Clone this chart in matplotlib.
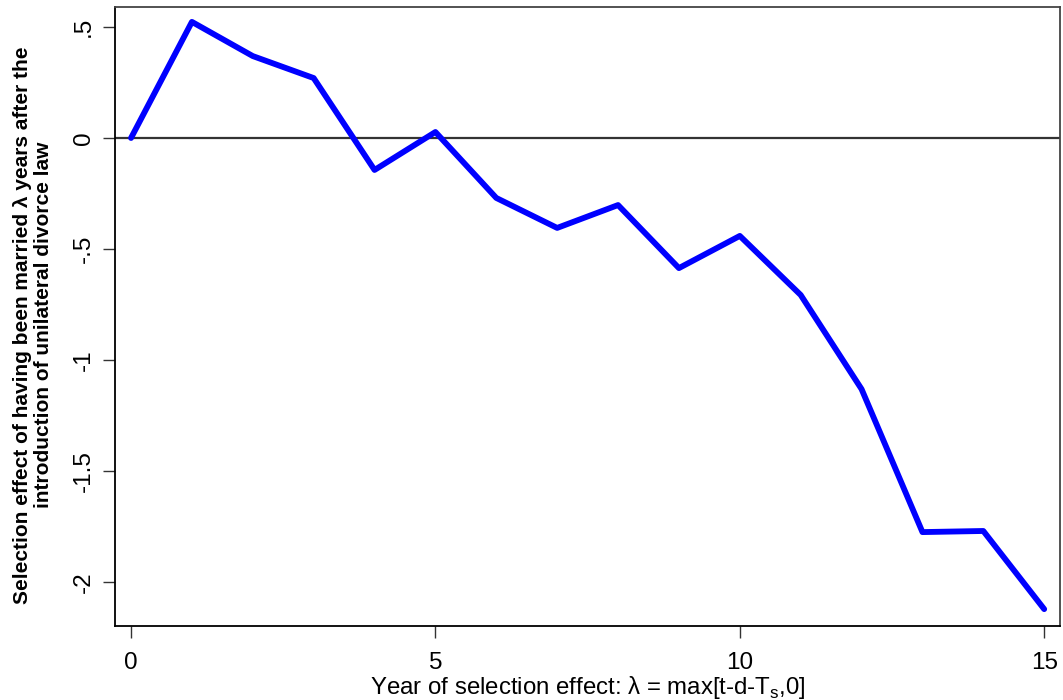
import matplotlib
matplotlib.use('Agg')
import matplotlib.pyplot as plt

# selection effect by year since law
years = [0, 1, 2, 3, 4, 5, 6, 7, 8, 9, 10, 11, 12, 13, 14, 15]
effect = [0, 0.523, 0.369, 0.270, -0.144, 0.027, -0.270, -0.405, -0.302,
          -0.586, -0.441, -0.707, -1.131, -1.775, -1.770, -2.122]
yticks = [0.5, 0, -0.5, -1, -1.5, -2]
ytick_labels = ['.5', '0', '-.5', '-1', '-1.5', '-2']
xticks = [0, 5, 10, 15]

plt.rcParams['font.family'] = ['Liberation Sans', 'DejaVu Sans']

fig = plt.figure(figsize=(10.63, 7), dpi=100)
ax = fig.add_axes([0.1082, 0.1057, 0.889, 0.8843])

ax.axhline(0, color='#333333', lw=1.6, zorder=1)
ax.plot(years, effect, color='#0000ff', lw=4.2, solid_capstyle='round',
        solid_joinstyle='round', zorder=2)

ax.set_xlim(-0.263, 15.26)
ax.set_ylim(-2.198, 0.59)
ax.set_xticks(xticks)
ax.set_yticks(yticks)
ax.set_yticklabels(ytick_labels, rotation=90, va='center')
ax.tick_params(labelsize=17.5, length=8.5, width=1, color='#333333')
ax.tick_params(axis='x', pad=10)
ax.tick_params(axis='y', pad=6)

for s in ['left', 'bottom']:
    ax.spines[s].set_color('black')
    ax.spines[s].set_linewidth(1.3)
for s in ['top', 'right']:
    ax.spines[s].set_color('#444444')
    ax.spines[s].set_linewidth(1.3)

ax.set_xlabel('Year of selection effect: λ = max[t-d-T$_\\mathregular{s}$,0]',
              fontsize=17.3, labelpad=0.5)
ax.set_ylabel('Selection effect of having been married λ years after the\n'
              'introduction of unilateral divorce law',
              fontsize=15, fontweight='bold', linespacing=1.1)
ax.yaxis.set_label_coords(-0.066, 0.486)

fig.savefig('out.png', dpi=100)
